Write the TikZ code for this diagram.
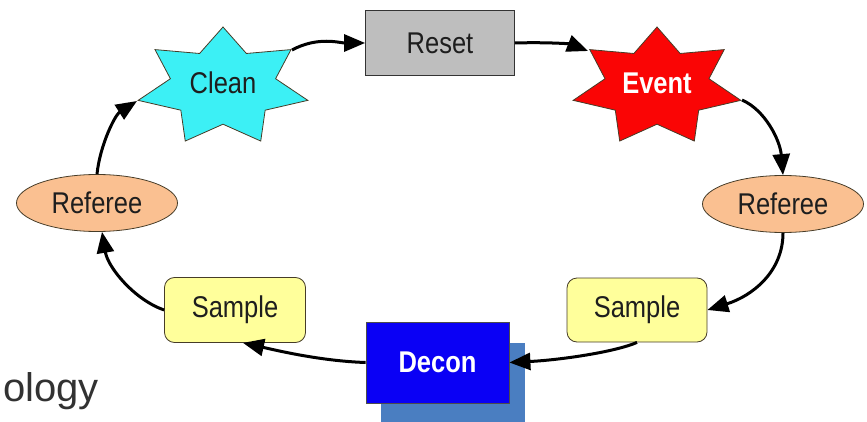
\documentclass[tikz,border=0pt]{standalone}
\usepackage{fontspec}
\setmainfont{Liberation Sans}
\newfontfamily\nf[FakeStretch=0.85]{Liberation Sans}
\usetikzlibrary{shapes.geometric,arrows.meta}
\definecolor{cleanc}{RGB}{60,240,245}
\definecolor{eventc}{RGB}{250,5,5}
\definecolor{resetc}{RGB}{190,190,190}
\definecolor{refc}{RGB}{250,192,145}
\definecolor{samplec}{RGB}{255,255,155}
\definecolor{deconc}{RGB}{10,0,245}
\definecolor{shadowc}{RGB}{74,126,193}
\definecolor{edgec}{RGB}{70,60,40}
\definecolor{textc}{RGB}{30,30,30}
\definecolor{capc}{RGB}{50,50,50}
\newcommand\mystar[5]{%
  \draw[edgec,line width=0.8pt,fill=#5] plot[samples at={0,...,13},variable=\k]
   ({#1+(mod(\k,2)==0?1:0.62)*#3*cos(-90+\k*180/7)},{#2+(mod(\k,2)==0?1:0.62)*#4*sin(-90+\k*180/7)}) -- cycle;}
\tikzset{
  lbl/.style={font=\nf\fontsize{30}{33}\selectfont,text=textc,inner sep=0pt},
  boldlbl/.style={font=\nf\bfseries\fontsize{30}{33}\selectfont,text=white,inner sep=0pt},
  boxline/.style={draw=edgec,line width=0.8pt},
  conn/.style={line width=3pt,-{Triangle[length=21pt,width=17pt]}},
}
\begin{document}
\begin{tikzpicture}[x=1pt,y=-1pt]
\useasboundingbox (0,0) rectangle (867,422);
% stars
\mystar{223}{87}{87}{60}{cleanc}
\mystar{657}{87}{86}{60}{eventc}
\node[lbl] (clean) at (223,83) {Clean};
\node[boldlbl] (event) at (657,83) {Event};
\coordinate (cleanur) at (292,50);
\coordinate (cleanl) at (137,101);
\coordinate (eventul) at (588,51);
\coordinate (eventr) at (742,100);
% boxes
\node[boxline,draw=gray!40!black,fill=resetc,minimum width=149pt,minimum height=65pt,lbl] (reset) at (440,43) {Reset};
\node[boxline,fill=refc,ellipse,minimum width=161pt,minimum height=57pt,lbl] (refl) at (97,203) {Referee};
\node[boxline,fill=refc,ellipse,minimum width=161pt,minimum height=57pt,lbl] (refr) at (783,204) {Referee};
\node[boxline,fill=samplec,rounded corners=10pt,minimum width=141pt,minimum height=65pt,lbl] (samplel) at (235,310) {Sample};
\node[boxline,fill=samplec,rounded corners=10pt,minimum width=140pt,minimum height=64pt,lbl] (sampler) at (637,310) {Sample};
\fill[shadowc] (381,343) rectangle (525,422);
\node[draw=black!70,line width=0.8pt,fill=deconc,minimum width=143pt,minimum height=81pt,boldlbl] (decon) at (437.5,362.5) {Decon};
% partial caption
\node[anchor=base east,inner sep=0pt,font=\fontsize{40}{44}\selectfont,text=capc] (cap) at (99,401) {ology};
% connectors
\draw[conn] (cleanur) .. controls (318,36) and (340,43) .. (reset.west);
\draw[conn] (reset.east) .. controls (548,42) and (570,44) .. (eventul);
\draw[conn] (eventr) .. controls (765,110) and (780,140) .. (refr.north);
\draw[conn] (refr.south) .. controls (783,272) and (752,296) .. (sampler.east);
\draw[conn] (sampler.south) .. controls (615,352) and (560,360) .. (decon.east);
\draw[conn] (decon.west) .. controls (320,361) and (275,350) .. ([xshift=8pt]samplel.south);
\draw[conn] (samplel.west) .. controls (135,300) and (108,268) .. ([xshift=5pt]refl.south);
\draw[conn] (refl.north) .. controls (100,145) and (115,115) .. (cleanl);
\end{tikzpicture}
\end{document}
